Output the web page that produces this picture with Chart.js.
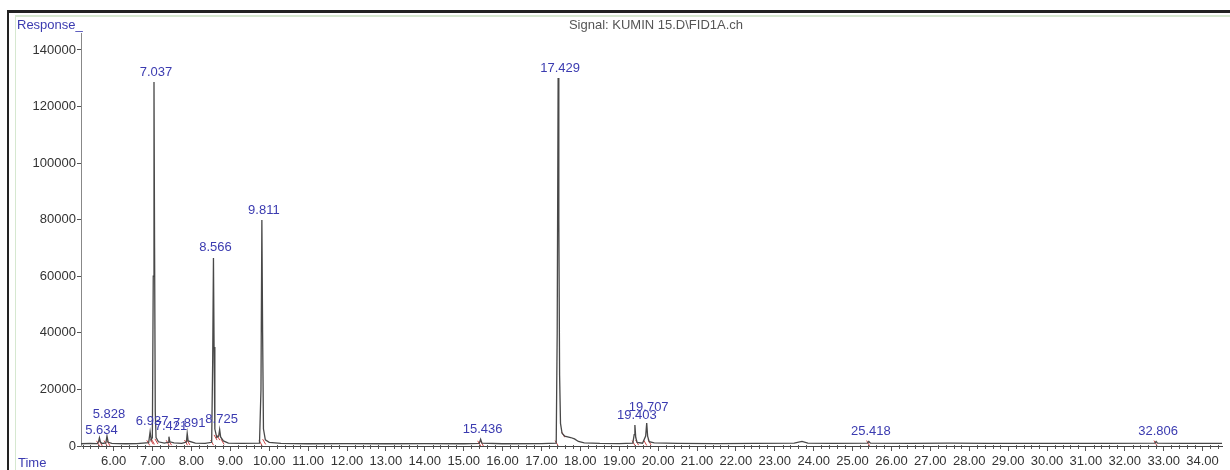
<!DOCTYPE html>
<html>
<head>
<meta charset="utf-8">
<script src="https://cdn.jsdelivr.net/npm/chart.js@4.4.1/dist/chart.umd.min.js"></script>
<style>
  html, body { margin: 0; padding: 0; background: #fff; }
  #wrap { position: relative; width: 1230px; height: 470px; }
  canvas { position: absolute; left: 0; top: 0; }
</style>
</head>
<body>
<div id="wrap"><canvas id="c" width="1230" height="470"></canvas></div>
<script>
// ---- Data ----
const titleText = "Signal: KUMIN 15.D\\FID1A.ch";
const yAxisTitle = "Response_";
const xAxisTitle = "Time";

const times = [
  5.16, 5.40, 5.58, 5.61, 5.634, 5.66, 5.70, 5.80, 5.828, 5.86, 5.95,
  6.30, 6.60, 6.90, 6.937, 6.965, 6.995, 7.018, 7.037, 7.052, 7.070, 7.09, 7.15,
  7.30, 7.40, 7.421, 7.445, 7.55, 7.75, 7.87, 7.891, 7.915, 8.10, 8.35,
  8.52, 8.546, 8.566, 8.582, 8.602, 8.65, 8.70, 8.725, 8.75, 8.82, 8.95,
  9.30, 9.75, 9.788, 9.811, 9.830, 9.852, 9.90, 10.00, 10.30,
  11.00, 12.00, 13.00, 14.00, 15.00, 15.40, 15.436, 15.47, 16.00, 17.00,
  17.38, 17.405, 17.429, 17.447, 17.467, 17.49, 17.53, 17.60, 17.75, 17.85, 17.95, 18.10,
  18.50, 19.00, 19.35, 19.385, 19.403, 19.425, 19.46, 19.60, 19.68, 19.707, 19.73, 19.77, 19.90,
  20.50, 21.50, 22.50, 23.50, 23.70, 23.85, 24.50, 25.38, 25.418, 25.46,
  26.50, 27.50, 28.50, 29.50, 30.50, 31.50, 32.77, 32.806, 32.84, 33.50, 34.50
];
const response = [
  800, 900, 850, 1500, 2900, 1400, 900, 1100, 3500, 1300, 900,
  800, 850, 1200, 5000, 2200, 3000, 60000, 128700, 70000, 12000, 3000, 1500,
  1000, 1300, 3300, 1500, 1100, 900, 1400, 4500, 1800, 1000, 900,
  1300, 30000, 66500, 35000, 6000, 3000, 3500, 5800, 3200, 1800, 1000,
  900, 1000, 20000, 79900, 40000, 6000, 2200, 1300, 900,
  800, 850, 800, 850, 800, 900, 2400, 1000, 800, 850,
  1000, 40000, 130100, 80000, 25000, 8000, 4500, 3500, 3000, 2500, 1600, 1100,
  900, 850, 1000, 4000, 7400, 3000, 1300, 1000, 3500, 8100, 3500, 1500, 1100,
  900, 850, 900, 1000, 1600, 1000, 900, 1000, 1600, 1000,
  900, 1000, 900, 950, 900, 900, 1000, 1600, 1000, 900, 900
];

// Labelled peaks (retention times as printed)
const peakTimes  = [5.634, 5.828, 6.937, 7.037, 7.421, 7.891, 8.566, 8.725, 9.811, 15.436, 17.429, 19.403, 19.707, 25.418, 32.806];
const peakLabels = ["5.634", "5.828", "6.937", "7.037", "7.421", "7.891", "8.566", "8.725", "9.811", "15.436", "17.429", "19.403", "19.707", "25.418", "32.806"];

// Integration start/end markers (red)
const markTimes  = [5.60, 5.67, 5.79, 5.87, 6.89, 6.98, 7.01, 7.10, 7.39, 7.45, 7.86, 7.92, 8.53, 8.62, 8.69, 8.80, 9.78, 9.87, 15.40, 15.47, 17.39, 17.56, 19.37, 19.46, 19.67, 19.78, 25.40, 32.79];
const markValues = [900, 900, 1000, 900, 1100, 1500, 1500, 1600, 1100, 1200, 1200, 1300, 1200, 3000, 3000, 1500, 1000, 1500, 900, 900, 1000, 4000, 1000, 1200, 1100, 1300, 1000, 1000];

const xTicks = [6,7,8,9,10,11,12,13,14,15,16,17,18,19,20,21,22,23,24,25,26,27,28,29,30,31,32,33,34];
const yTicks = [0, 20000, 40000, 60000, 80000, 100000, 120000, 140000];

// ---- Chart ----
const FONT = "'Liberation Sans', Arial, sans-serif";
const BLUE = '#3b3bb0';

const decorPlugin = {
  id: 'decor',
  beforeDraw(chart) {
    const ctx = chart.ctx;
    ctx.save();
    ctx.fillStyle = '#fff';
    ctx.fillRect(0, 0, chart.width, chart.height);
    // outer dark frame
    ctx.fillStyle = '#222';
    ctx.fillRect(7, 10, chart.width - 7, 3);
    ctx.fillRect(7, 10, 2, chart.height - 10);
    // inner light-green frame
    ctx.fillStyle = '#d6e8d0';
    ctx.fillRect(15, 15, chart.width - 15, 2);
    ctx.fillRect(15, 15, 1, chart.height - 15);
    ctx.restore();
  },
  afterDraw(chart) {
    const ctx = chart.ctx;
    const xs = chart.scales.x, ys = chart.scales.y;
    const area = chart.chartArea;
    ctx.save();
    // minor x ticks
    ctx.strokeStyle = '#555';
    ctx.lineWidth = 1;
    ctx.beginPath();
    for (let k = Math.ceil(xs.min * 5); k <= Math.floor(xs.max * 5); k++) {
      if (k % 5 === 0) continue;
      const px = Math.round(xs.getPixelForValue(k / 5)) + 0.5;
      ctx.moveTo(px, area.bottom - 1);
      ctx.lineTo(px, area.bottom + 3);
    }
    ctx.stroke();
    // texts
    ctx.font = '13px ' + FONT;
    ctx.textBaseline = 'middle';
    ctx.fillStyle = BLUE;
    ctx.textAlign = 'left';
    ctx.fillText(yAxisTitle, 17, 25);
    ctx.fillText(xAxisTitle, 18, 463);
    ctx.fillStyle = '#555';
    ctx.textAlign = 'center';
    ctx.fillText(titleText, 656, 25);
    // peak labels
    const lift = chart.options.plugins.decor.lift;
    ctx.fillStyle = BLUE;
    peakTimes.forEach((t, i) => {
      const idx = times.indexOf(t);
      const apex = response[idx];
      const px = xs.getPixelForValue(t);
      const py = ys.getPixelForValue(apex) - (lift[peakLabels[i]] || 10);
      ctx.fillText(peakLabels[i], px + 2, py);
    });
    ctx.restore();
  }
};

new Chart(document.getElementById('c'), {
  type: 'line',
  data: {
    datasets: [
      {
        data: times.map((t, i) => ({ x: t, y: response[i] })),
        borderColor: '#484848',
        borderWidth: 1.3,
        pointRadius: 0,
        tension: 0,
        fill: false
      },
      {
        type: 'scatter',
        data: markTimes.map((t, i) => ({ x: t, y: markValues[i] })),
        pointStyle: 'line',
        rotation: 60,
        radius: 3,
        borderColor: '#d04848',
        borderWidth: 1,
        showLine: false
      }
    ]
  },
  options: {
    responsive: false,
    animation: false,
    layout: { padding: { top: 33, right: 8, left: 0, bottom: 0 } },
    plugins: {
      legend: { display: false },
      tooltip: { enabled: false },
      decor: { lift: { '5.634': 7, '5.828': 22, '19.707': 16 } }
    },
    scales: {
      x: {
        type: 'linear',
        min: 5.16,
        max: 34.5,
        afterBuildTicks: s => { s.ticks = xTicks.map(v => ({ value: v })); },
        afterFit: s => { s.height = 24; },
        ticks: {
          callback: v => Number(v).toFixed(2),
          font: { family: FONT, size: 13 },
          color: '#333',
          maxRotation: 0,
          autoSkip: false,
          padding: 3
        },
        grid: { drawOnChartArea: false, tickLength: 5, color: '#555' },
        border: { color: '#444' }
      },
      y: {
        min: 0,
        max: 146000,
        afterBuildTicks: s => { s.ticks = yTicks.map(v => ({ value: v })); },
        afterFit: s => { s.width = 81; },
        ticks: {
          callback: v => String(v),
          font: { family: FONT, size: 13 },
          color: '#333',
          padding: 1
        },
        grid: { drawOnChartArea: false, tickLength: 4, color: '#555' },
        border: { color: '#888' }
      }
    }
  },
  plugins: [decorPlugin]
});
</script>
</body>
</html>
